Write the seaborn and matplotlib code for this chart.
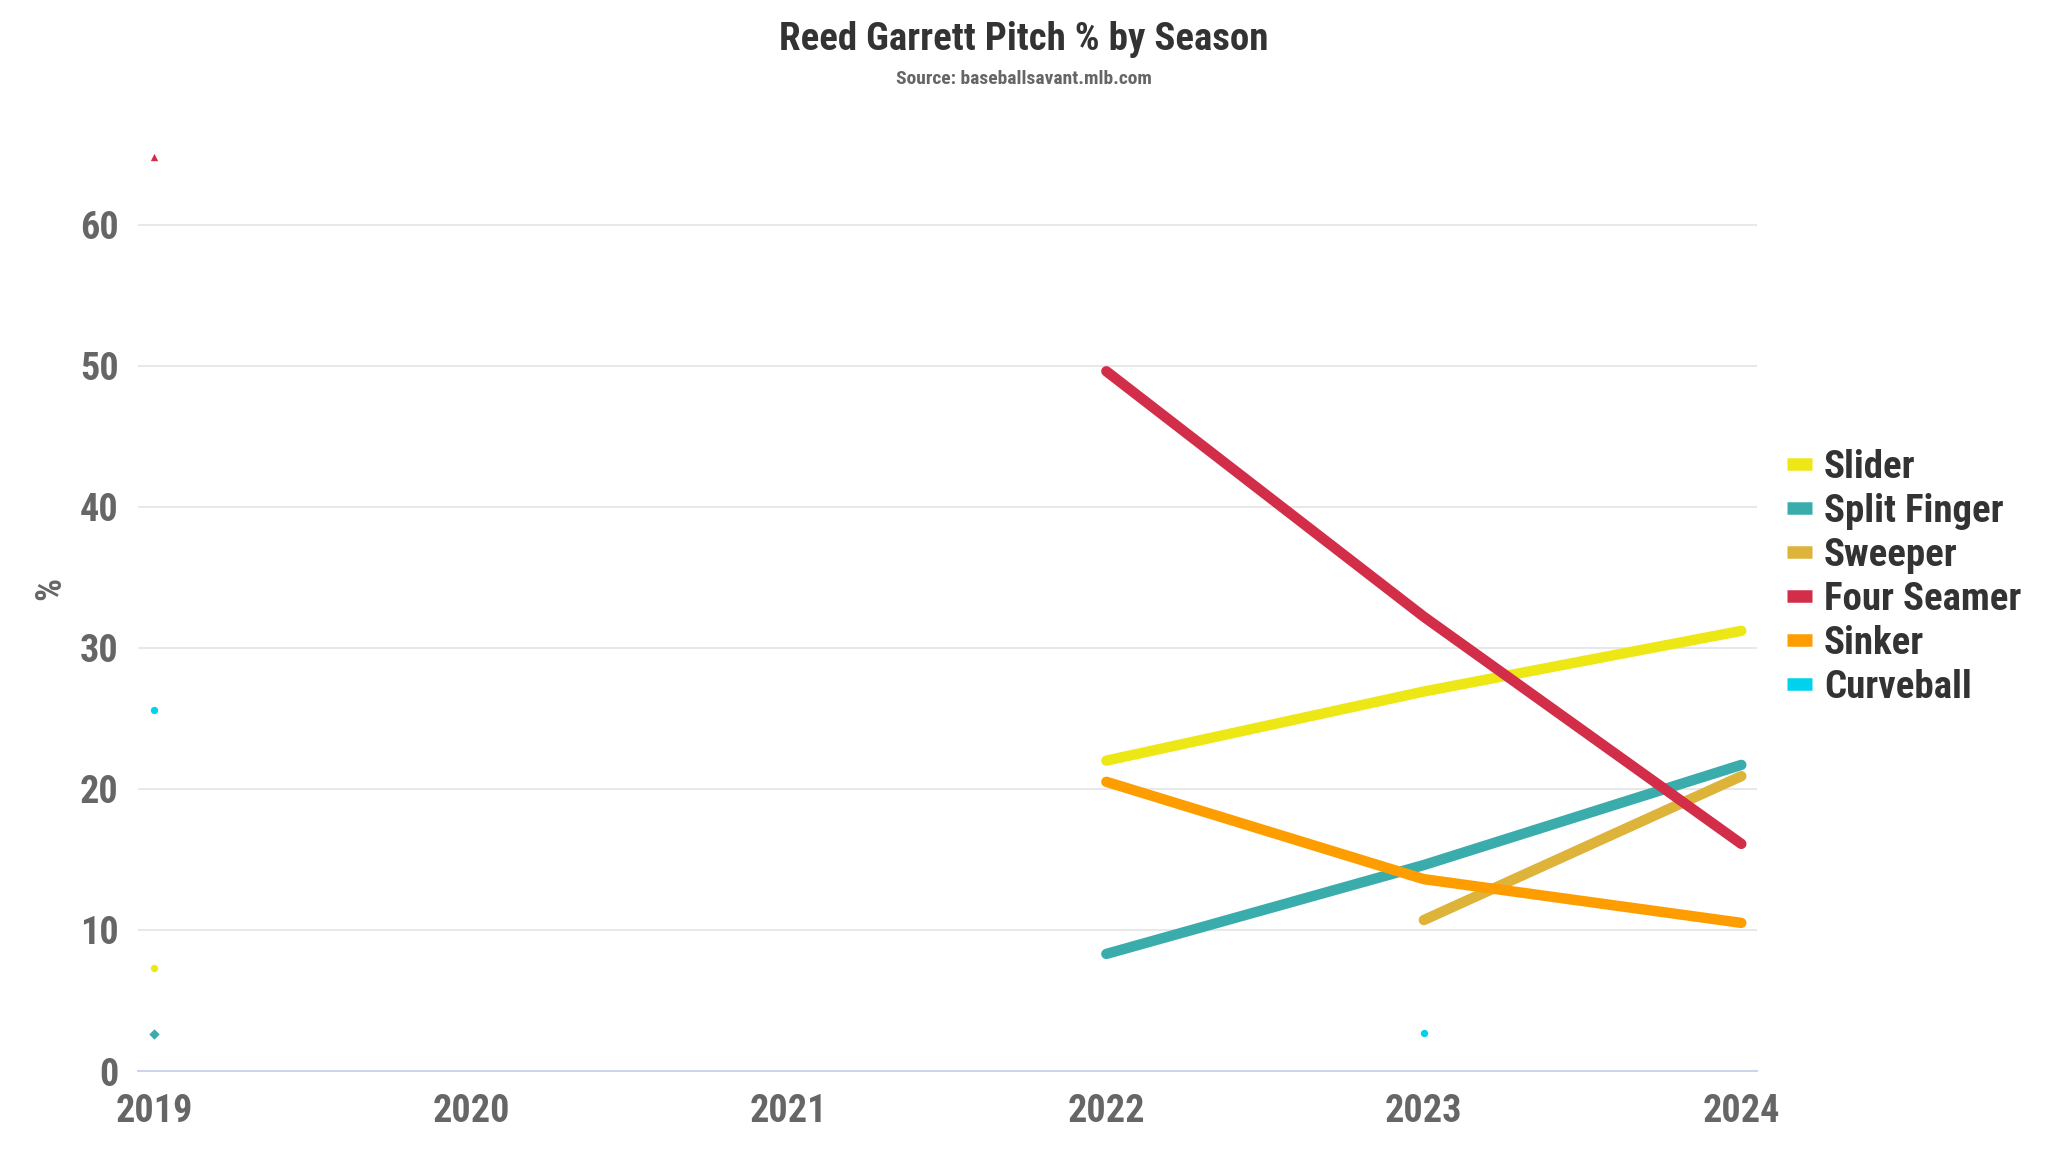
import matplotlib
matplotlib.use("Agg")
import matplotlib.pyplot as plt
import seaborn as sns
import pandas as pd
from matplotlib.lines import Line2D

seasons = [2019, 2020, 2021, 2022, 2023, 2024]
pitches = ["Slider", "Split Finger", "Sweeper", "Four Seamer", "Sinker", "Curveball"]
slider = [7.3, None, None, 22.0, 26.9, 31.2]
split_finger = [2.6, None, None, 8.3, 14.6, 21.7]
sweeper = [None, None, None, None, 10.7, 20.9]
four_seamer = [64.8, None, None, 49.6, 32.2, 16.1]
sinker = [None, None, None, 20.5, 13.6, 10.5]
curveball = [25.6, None, None, None, 2.7, None]
colors = ["#EEE716", "#3BACAC", "#DDB33A", "#D22D49", "#FE9D00", "#00D1ED"]
markers = ["o", "D", "s", "^", "v", "o"]

series = [slider, split_finger, sweeper, four_seamer, sinker, curveball]

# long table, with a run id so gaps break the line
rows = []
for name, vals in zip(pitches, series):
    run = 0
    for yr, v in zip(seasons, vals):
        if v is None:
            run += 1
            continue
        rows.append({"Season": yr, "Pct": v, "Pitch": name, "run": f"{name}-{run}"})
df = pd.DataFrame(rows)
df["n"] = df.groupby("run")["Pct"].transform("size")

sns.set_style("white")
plt.rcParams["font.family"] = ["Roboto Condensed", "Liberation Sans Narrow", "DejaVu Sans"]
plt.rcParams["font.weight"] = "bold"

fig = plt.figure(figsize=(20.48, 11.52), dpi=100)
ax = fig.add_axes([0.0674, 0.0703, 0.7906, 0.7997])
palette = dict(zip(pitches, colors))

lines = df[df["n"] > 1]
sns.lineplot(data=lines, x="Season", y="Pct", hue="Pitch", units="run",
             estimator=None, palette=palette, linewidth=7.5, legend=False,
             ax=ax, solid_capstyle="round")

singles = df[df["n"] == 1]
for name, m in zip(pitches, markers):
    sub = singles[singles["Pitch"] == name]
    if len(sub):
        sns.scatterplot(data=sub, x="Season", y="Pct", color=palette[name],
                        marker=m, s=28, linewidth=0, ax=ax, legend=False)

ax.set_xlim(2018.95, 2024.05)
ax.set_ylim(0, 65.3)
ax.set_xticks(seasons)
ax.set_xticklabels([str(s) for s in seasons])
ax.set_yticks([0, 10, 20, 30, 40, 50, 60])
ax.grid(axis="y", color="#e6e6e6", linewidth=1.3)
ax.set_axisbelow(True)
for s in ["top", "right", "left"]:
    ax.spines[s].set_visible(False)
ax.spines["bottom"].set_color("#ccd6eb")
ax.spines["bottom"].set_linewidth(1.5)
ax.tick_params(axis="x", colors="#ccd6eb", length=12, width=1.5, labelcolor="#666666",
               labelsize=27.5, pad=4)
ax.tick_params(axis="y", length=0, labelcolor="#666666", labelsize=27.5, pad=14)
for lab in ax.get_xticklabels() + ax.get_yticklabels():
    lab.set_fontweight("bold")
ax.set_xlabel("")
ax.set_ylabel("%", fontsize=26, color="#666666", fontweight="bold")
ax.yaxis.set_label_coords(-0.043, 0.524)

fig.text(0.5, 0.982, "Reed Garrett Pitch % by Season", ha="center", va="top",
         fontsize=28, color="#333333", fontweight="bold")
fig.text(0.5, 0.939, "Source: baseballsavant.mlb.com", ha="center", va="top",
         fontsize=14, color="#666666", fontweight="bold")

handles = [Line2D([0], [0], color=c, linewidth=9, solid_capstyle="butt") for c in colors]
leg = fig.legend(handles, pitches, loc="center left", bbox_to_anchor=(0.865, 0.499),
                 frameon=False, fontsize=28, handlelength=0.65, handletextpad=0.3,
                 labelspacing=0.18, labelcolor="#333333", borderaxespad=0)
for t in leg.get_texts():
    t.set_fontweight("bold")

fig.savefig("out.png", dpi=100)
